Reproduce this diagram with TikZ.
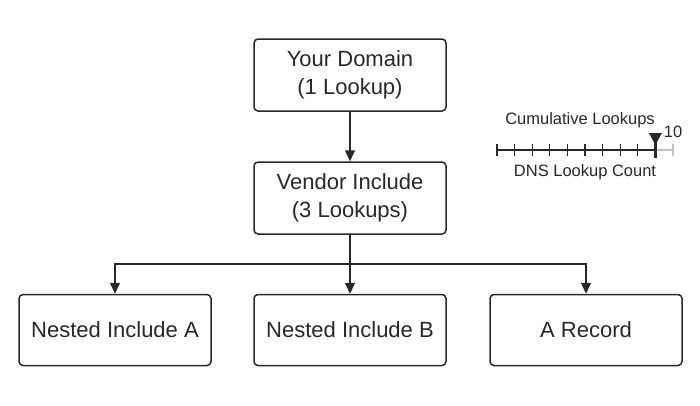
\documentclass[tikz,border=0pt]{standalone}
\usepackage{fontspec}
\setmainfont{Liberation Sans}
\usetikzlibrary{arrows.meta,positioning,calc}
\definecolor{boxline}{RGB}{40,40,40}
\definecolor{gaugegray}{RGB}{195,195,195}
\tikzset{
    dnsbox/.style={rectangle, rounded corners=4pt, draw=boxline, line width=1.5pt, minimum width=192pt, minimum height=72pt, align=center, text=boxline, font=\fontsize{22}{28}\selectfont},
    flow/.style={line width=1.5pt, draw=boxline, -{Triangle[length=11pt,width=10pt]}},
    link/.style={line width=1.5pt, draw=boxline},
    gaugetick/.style={line width=1.2pt, boxline},
    gaugelabel/.style={text=boxline, font=\fontsize{16.5}{19}\selectfont},
}

\begin{document}
\begin{tikzpicture}[x=1pt,y=-1pt]
    \useasboundingbox (0,0) rectangle (700,405);

    % tree of lookups
    \node[dnsbox] (domain) at (350,75) {Your Domain\\(1 Lookup)};
    \node[dnsbox] (vendor) at (350,198) {Vendor Include\\(3 Lookups)};
    \node[dnsbox, minimum height=71pt] (nestA) at (115,330) {Nested Include A};
    \node[dnsbox, minimum height=71pt] (nestB) at (350,330) {Nested Include B};
    \node[dnsbox, minimum height=71pt] (arec) at (586,330) {A Record};
    \coordinate (split) at (350,264);

    \draw[flow] (domain) -- (vendor);
    \draw[link] (vendor) -- (split);
    \draw[flow] (split) -| (nestA.north);
    \draw[flow] (split) -- (nestB.north);
    \draw[flow] (split) -| (arec.north);

    % lookup gauge
    \coordinate (g0) at (497,150);
    \coordinate (g9) at (655.4,150);
    \coordinate (g10) at (673,150);
    \draw[gaugegray, line width=1.5pt] (g9) -- (g10);
    \draw[gaugetick] (g0) -- (g9);
    \foreach \i in {0,...,8}
        \draw[gaugetick] ($(g0)+(17.6*\i,-6)$) -- ++(0,12);
    \draw[gaugegray, line width=1.2pt] ($(g10)+(0,-6)$) -- ++(0,12);
    \draw[boxline, line width=3pt] ($(g9)+(0,-9)$) -- ++(0,17);
    \fill[boxline] ($(g9)+(-6.5,-17)$) -- ++(13,0) -- ($(g9)+(0,-5)$) -- cycle;
    \node[gaugelabel] (ten) at (673,132) {10};
    \node[gaugelabel] (cumul) at (580,120) {Cumulative Lookups};
    \node[gaugelabel] (count) at (585,172) {DNS Lookup Count};
\end{tikzpicture}
\end{document}
